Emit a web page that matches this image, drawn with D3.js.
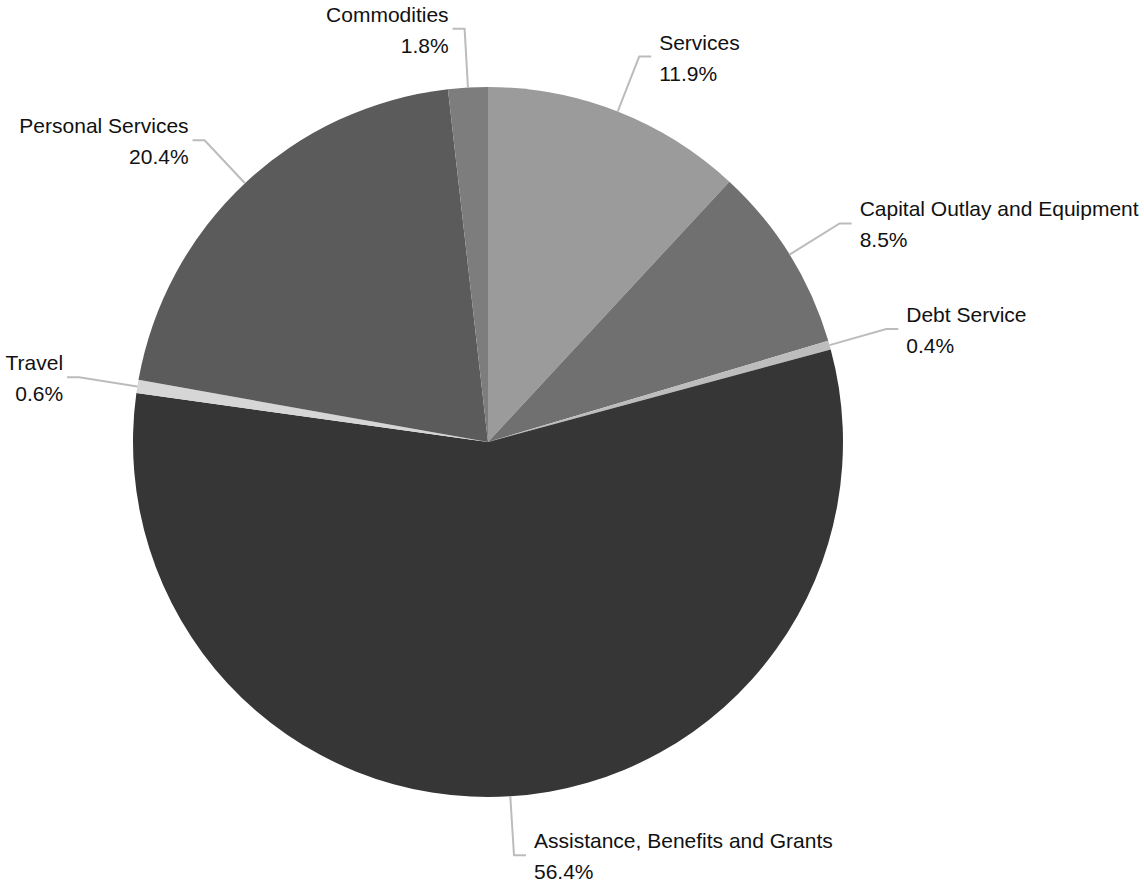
<!DOCTYPE html>
<html>
<head>
<meta charset="utf-8">
<script src="https://cdn.jsdelivr.net/npm/d3@7"></script>
<style>
  body { margin: 0; background: #ffffff; }
  svg { display: block; }
</style>
</head>
<body>
<div class="pie-chart"></div>
<script>
// Slice data, clockwise from 12 o'clock
const categories = ["Services", "Capital Outlay and Equipment", "Debt Service",
    "Assistance, Benefits and Grants", "Travel", "Personal Services", "Commodities"];
const shares = [11.9, 8.5, 0.4, 56.4, 0.6, 20.4, 1.8];
const sliceColors = ["#9b9b9b", "#707070", "#bdbdbd", "#363636", "#d6d6d6", "#5b5b5b", "#7d7d7d"];

const width = 1144, height = 884;
const cx = 488, cy = 442, radius = 355;
const elbowR = 414;

const svg = d3.select(".pie-chart")
    .append("svg")
    .attr("width", width)
    .attr("height", height);

const g = svg.append("g").attr("transform", `translate(${cx},${cy})`);

const nodes = categories.map((name, i) => ({ name, value: shares[i], color: sliceColors[i] }));

const pie = d3.pie().sort(null).value(d => d.value);
const arcs = pie(nodes);
const arc = d3.arc().innerRadius(0).outerRadius(radius);

// Slices
g.selectAll("path.slice")
    .data(arcs)
    .enter()
    .append("path")
    .attr("class", "slice")
    .attr("d", arc)
    .attr("fill", d => d.data.color);

// Leader lines: from slice mid-angle on the rim, out to an elbow, then a short horizontal
const pt = (a, r) => [r * Math.sin(a), -r * Math.cos(a)];

arcs.forEach(d => {
    const mid = (d.startAngle + d.endAngle) / 2;
    const right = Math.sin(mid) >= 0;
    const p0 = pt(mid, radius);
    const p1 = pt(mid, elbowR);
    const p2 = [p1[0] + (right ? 12 : -12), p1[1]];

    g.append("polyline")
        .attr("points", [p0, p1, p2].map(p => p.join(",")).join(" "))
        .attr("fill", "none")
        .attr("stroke", "#bcbcbc")
        .attr("stroke-width", 2);

    const tx = right ? p2[0] + 8 : p2[0] - 4;
    const label = g.append("text")
        .attr("text-anchor", right ? "start" : "end")
        .style("font-family", "'Liberation Sans', Arial, sans-serif")
        .style("font-size", "21px")
        .style("fill", "#111111");

    label.append("tspan")
        .attr("x", tx)
        .attr("y", p1[1] - 7)
        .text(d.data.name);
    label.append("tspan")
        .attr("x", tx)
        .attr("y", p1[1] + 24)
        .text(d.data.value.toFixed(1) + "%");
});
</script>
</body>
</html>
